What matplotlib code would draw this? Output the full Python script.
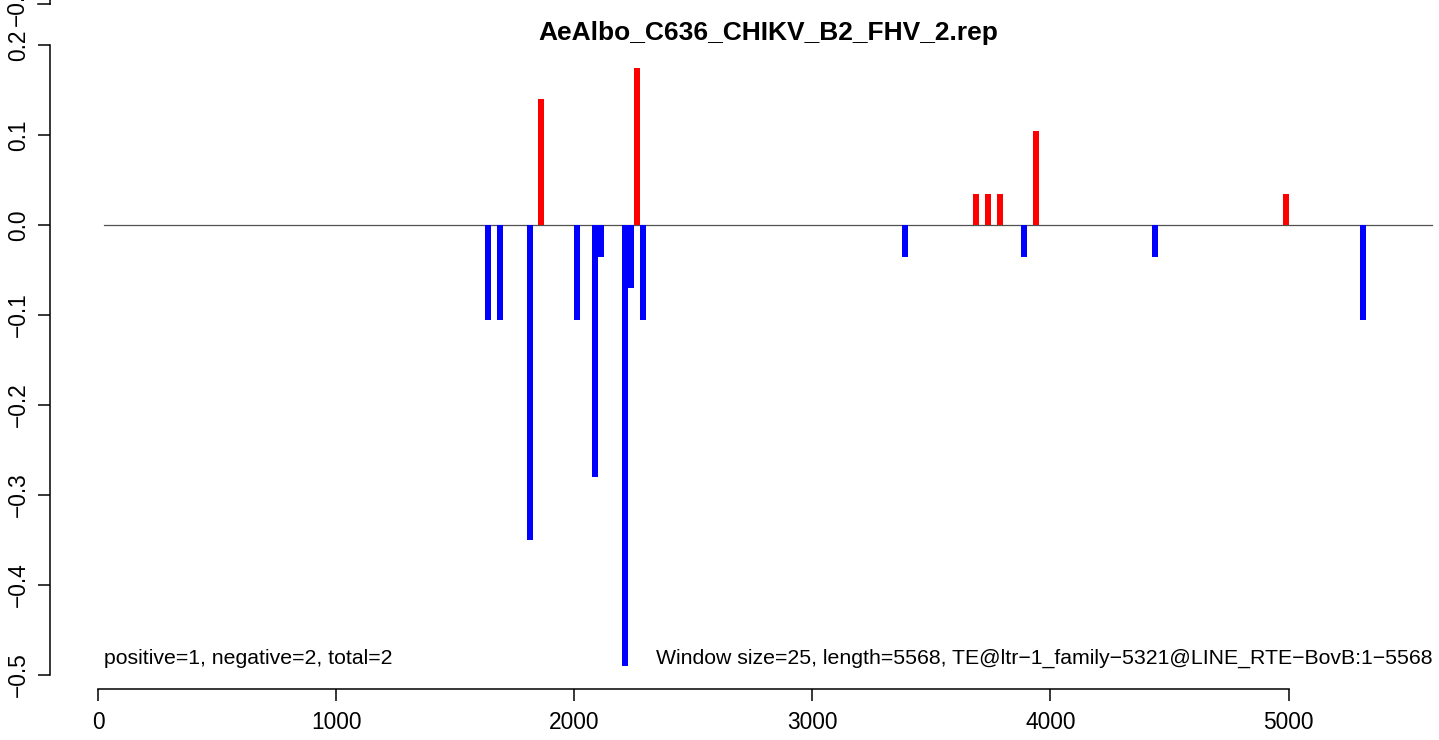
import matplotlib
matplotlib.use('Agg')
import matplotlib.pyplot as plt
from matplotlib.lines import Line2D

plt.rcParams['font.family'] = ['Liberation Sans', 'DejaVu Sans']

# window positions and scores
positions = [1637.5, 1687.5, 1812.5, 1862.5, 2012.5, 2087.5, 2112.5, 2212.5,
             2237.5, 2262.5, 2287.5, 3387.5, 3687.5, 3737.5, 3787.5, 3887.5,
             3937.5, 4437.5, 4987.5, 5312.5]
scores = [-0.105, -0.105, -0.35, 0.14, -0.105, -0.28, -0.035, -0.49,
          -0.07, 0.175, -0.105, -0.035, 0.035, 0.035, 0.035, -0.035,
          0.105, -0.035, 0.035, -0.105]
baseline_x = [25, 5603]
xticks = [0, 1000, 2000, 3000, 4000, 5000]
yticks = [-0.5, -0.4, -0.3, -0.2, -0.1, 0.0, 0.1, 0.2]

title = 'AeAlbo_C636_CHIKV_B2_FHV_2.rep'
left_note = 'positive=1, negative=2, total=2'
right_note = 'Window size=25, length=5568, TE@ltr\u22121_family\u22125321@LINE_RTE\u2212BovB:1\u22125568'

W, H = 1439, 740
fig = plt.figure(figsize=(W / 100, H / 100), dpi=100)

# plot region in pixels
l, r, t, b = 50, 1439, 40, 689
ax = fig.add_axes([l / W, 1 - b / H, (r - l) / W, (b - t) / H])

px_per_unit = 238.1 / 1000
ax.set_xlim((l - 98) / px_per_unit, (r - 98) / px_per_unit)
ax.set_ylim(-(b - 225) / 900, (225 - t) / 900)

ax.plot(baseline_x, [0, 0], color='#505050', lw=0.9)
colors = ['red' if s > 0 else 'blue' for s in scores]
ax.vlines(positions, 0, scores, colors=colors, lw=4.32, capstyle='butt')

for s in ['top', 'right']:
    ax.spines[s].set_visible(False)
ax.spines['left'].set_bounds(-0.5, 0.2)
ax.spines['bottom'].set_bounds(0, 5000)
for s in ['left', 'bottom']:
    ax.spines[s].set_linewidth(1.1)

ax.set_xticks(xticks)
ax.set_xticklabels([str(x) for x in xticks], fontsize=16.4)
ax.set_yticks(yticks)
ax.set_yticklabels([f'{y:.1f}'.replace('-', '\u2212') for y in yticks],
                   fontsize=16.4, rotation=90, va='center')
ax.tick_params(length=8.6, width=1.1, direction='out')
ax.tick_params(axis='x', pad=7)
ax.tick_params(axis='y', pad=6)

ax.text(baseline_x[0], -0.482, left_note, fontsize=15.3, ha='left', va='center')
ax.text(baseline_x[1], -0.482, right_note, fontsize=15.3, ha='right', va='center')

fig.text(768 / W, 1 - 33 / H, title, fontsize=19, fontweight='bold',
         ha='center', va='center')

# bottom of the panel above (cut off at the top edge)
fig.add_artist(Line2D([l / W, l / W], [1, 1 - 4 / H], color='black', lw=1.1,
                      transform=fig.transFigure))
fig.add_artist(Line2D([38 / W, l / W], [1 - 4 / H, 1 - 4 / H], color='black',
                      lw=1.1, transform=fig.transFigure))
fig.text(17 / W, 1 - 4 / H, '\u22120.5', fontsize=16.4, rotation=90,
         ha='center', va='center')

fig.savefig('out.png', dpi=100)
plt.close(fig)
